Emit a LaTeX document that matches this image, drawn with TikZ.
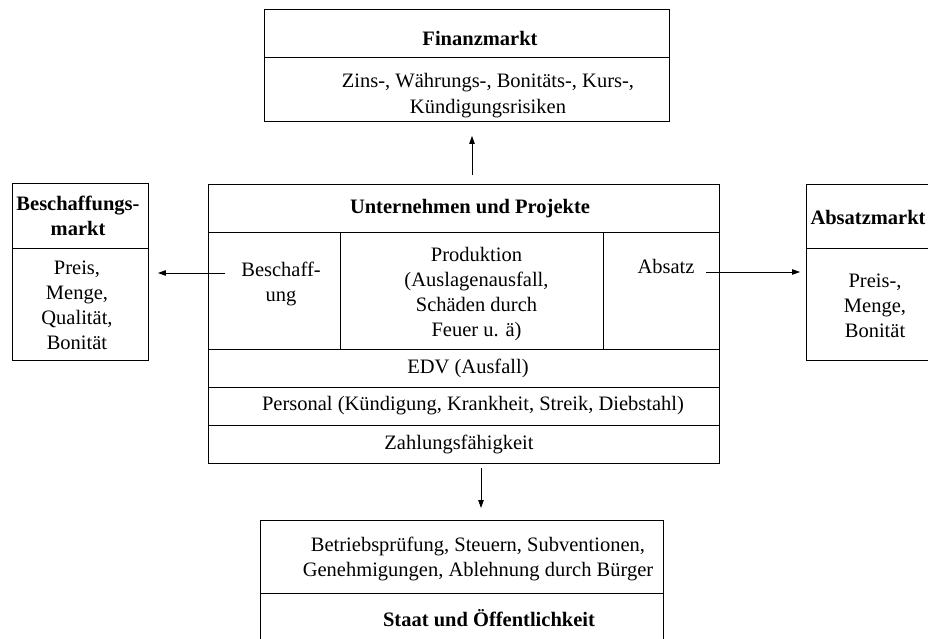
\documentclass[tikz,border=0pt]{standalone}
\usepackage{fontspec}
\setmainfont{Liberation Serif}
\usetikzlibrary{arrows.meta}
\begin{document}
\begin{tikzpicture}[x=1pt,y=-1pt, line width=0.9pt,
  box/.style={draw, rectangle, inner sep=0pt, anchor=north west},
  txt/.style={align=center, inner sep=0pt, font=\fontsize{20.5}{25}\selectfont},
  btxt/.style={align=center, inner sep=0pt, font=\fontsize{20.5}{25}\selectfont\bfseries},
  arr/.style={-{Triangle[length=8pt,width=5.5pt]}, line width=0.9pt}]
\useasboundingbox (0,0) rectangle (928,639);
\clip (0,0) rectangle (928,639);

% Finanzmarkt
\node[box, minimum width=405pt, minimum height=112pt] (fin) at (264,9) {};
\draw (fin.west |- 0,57) -- (fin.east |- 0,57);
\node[btxt] (fint) at (480,38) {Finanzmarkt};
\node[txt, font=\fontsize{20.5}{26}\selectfont] (finb) at (488,96) {Zins-, Währungs-, Bonitäts-, Kurs-,\\Kündigungsrisiken};

% Unternehmen
\node[box, minimum width=511pt, minimum height=279pt] (main) at (208,184) {};
\draw (main.west |- 0,232) -- (main.east |- 0,232);
\draw (main.west |- 0,349) -- (main.east |- 0,349);
\draw (main.west |- 0,387) -- (main.east |- 0,387);
\draw (main.west |- 0,425) -- (main.east |- 0,425);
\draw (340,232) -- (340,349);
\draw (603,232) -- (603,349);
\node[btxt] (maint) at (470,209) {Unternehmen und Projekte};
\node[txt] (besch) at (281,284) {Beschaff-\\ung};
\node[txt] (prod) at (476.5,294) {Produktion\\(Auslagenausfall,\\Schäden durch\\Feuer u. ä)};
\node[txt] (abs) at (666,266) {Absatz};
\node[txt] (edv) at (468,368) {EDV (Ausfall)};
\node[txt] (pers) at (473,406) {Personal (Kündigung, Krankheit, Streik, Diebstahl)};
\node[txt] (zahl) at (459,444) {Zahlungsfähigkeit};

% Beschaffungsmarkt
\node[box, minimum width=136pt, minimum height=177pt] (left) at (12,183) {};
\draw (left.west |- 0,248) -- (left.east |- 0,248);
\node[btxt] (leftt) at (78,216) {Beschaffungs-\\markt};
\node[txt] (leftb) at (77,305) {Preis,\\Menge,\\Qualität,\\Bonität};

% Absatzmarkt
\node[box, minimum width=137pt, minimum height=176pt] (right) at (806,184) {};
\draw (right.west |- 0,248) -- (right.east |- 0,248);
\node[btxt] (rightt) at (868,217) {Absatzmarkt};
\node[txt] (rightb) at (875,306) {Preis-,\\Menge,\\Bonität};

% Staat
\node[box, minimum width=403pt, minimum height=150pt] (bot) at (260,520) {};
\draw (bot.west |- 0,593) -- (bot.east |- 0,593);
\node[txt] (botb) at (478,559) {Betriebsprüfung, Steuern, Subventionen,\\Genehmigungen, Ablehnung durch Bürger};
\node[btxt] (bott) at (489,618) {Staat und Öffentlichkeit};

% arrows
\coordinate (upa) at (472,175);
\draw[arr, shorten >=14pt] (upa) -- (fin.south -| upa);
\coordinate (la) at (225,273);
\draw[arr, shorten >=9pt] (la) -- (left.east |- la);
\coordinate (ra) at (706,272);
\draw[arr, shorten >=6pt] (ra) -- (right.west |- ra);
\coordinate (da) at (481,468);
\draw[arr, shorten >=12pt] (da) -- (bot.north -| da);
\end{tikzpicture}
\end{document}
